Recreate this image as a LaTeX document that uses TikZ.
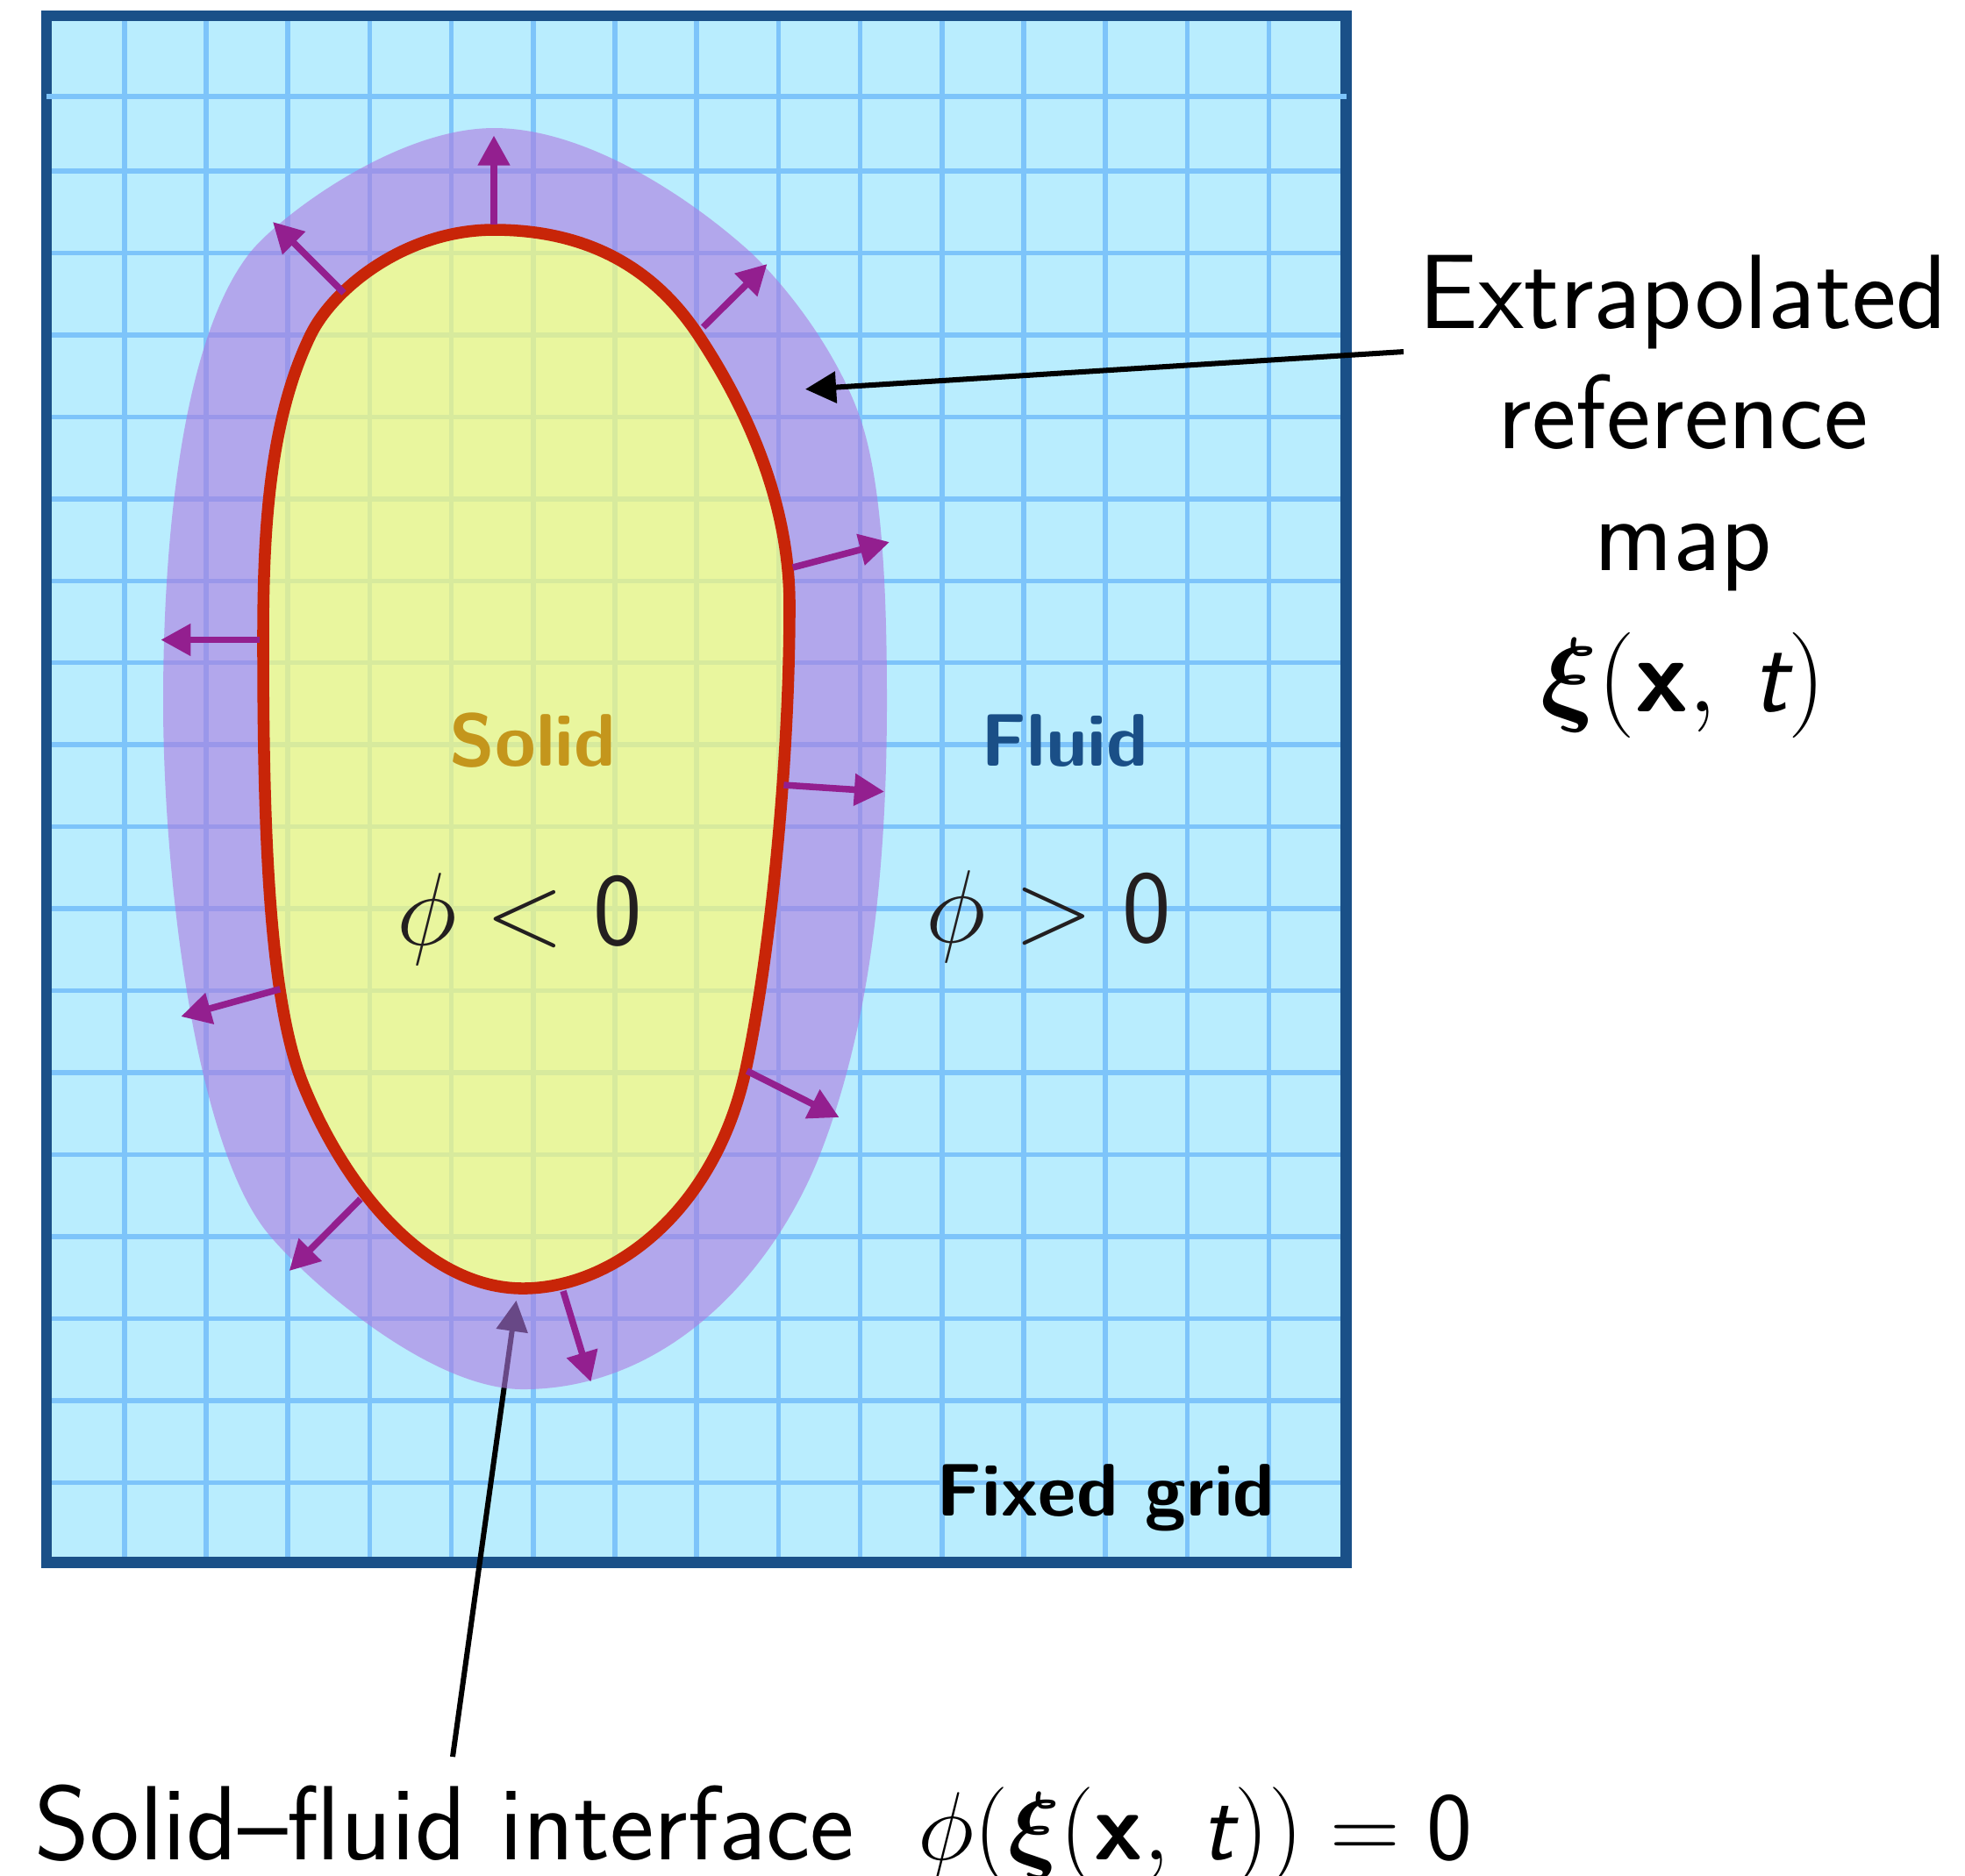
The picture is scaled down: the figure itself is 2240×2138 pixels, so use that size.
\RequirePackage{fix-cm}
\documentclass[tikz,border=0pt]{standalone}
\usepackage{bm}
\usetikzlibrary{arrows.meta}
\definecolor{bgc}{HTML}{B9EDFE}
\definecolor{gridc}{HTML}{7DC4FA}
\definecolor{framec}{HTML}{1A5088}
\definecolor{purp}{HTML}{AE79E0}
\definecolor{solidc}{HTML}{FEFB76}
\definecolor{redc}{HTML}{C82508}
\definecolor{normc}{HTML}{931F8F}
\definecolor{solidtxt}{HTML}{C4961C}
\definecolor{fluidtxt}{HTML}{1A4F87}
\definecolor{mathtxt}{HTML}{231F20}
\begin{document}
\begin{tikzpicture}[x=0.007cm,y=-0.007cm,
  gridline/.style={draw=gridc, line width=1.1pt},
  normarrow/.style={draw=normc, line width=1.5pt, -{Triangle[length=6.8pt,width=7pt]}},
  blackarrow/.style={draw=black, line width=1.2pt, -{Triangle[length=7pt,width=7pt]}},
  bigtxt/.style={font=\sffamily\fontsize{24}{28}\selectfont, inner sep=0pt, anchor=base},
  boldlbl/.style={font=\sffamily\bfseries\fontsize{16.9}{20}\selectfont, inner sep=0pt, anchor=base},
  mathlbl/.style={font=\fontsize{23.5}{28}\selectfont, text=mathtxt, inner sep=0pt, anchor=base}]
\useasboundingbox (0,0) rectangle (2240,2138);
\fill[white] (0,0) rectangle (2240,2138);
% fixed grid
\fill[bgc] (53,18) rectangle (1534.5,1781.5);
\foreach \i in {0,...,14} \draw[gridline] ({141.8+93.2*\i},18) -- ({141.8+93.2*\i},1781.5);
\foreach \j in {0,...,16} \draw[gridline] (53,{195+93.45*\j}) -- (1534.5,{195+93.45*\j});
\draw[framec, line width=2.5pt] (53,18) rectangle (1534.5,1781.5);
\draw[gridline] (53,110) -- (1534.5,110);
% interface pointer (under the extrapolated band)
\coordinate (ifacetail) at (516,2003);
\coordinate (ifacetip) at (588.5,1482.7);
\draw[blackarrow] (ifacetail) -- (ifacetip);
% extrapolated band (ring around the solid)
\fill[purp, opacity=0.6, even odd rule]
  (563,146) .. controls (670,146) and (790,228) .. (856,288)
  .. controls (906.4,336.3) and (956.9,409.2) .. (980,475)
  .. controls (1006.4,550.2) and (1011,680) .. (1011,800)
  .. controls (1011,1000) and (990,1173.5) .. (936,1313)
  .. controls (882,1452.5) and (760,1584) .. (596,1584)
  .. controls (490,1584) and (350.8,1461) .. (306,1407)
  .. controls (222.8,1306.9) and (186,1000) .. (186,800)
  .. controls (186,600) and (210.6,382.2) .. (285,288)
  .. controls (316,248.75) and (450,146) .. cycle
  (563,262) .. controls (690,262) and (757.5,324) .. (796,382)
  .. controls (840,448.4) and (900,560) .. (900,690)
  .. controls (900,870) and (878,1090) .. (850,1220)
  .. controls (815,1380) and (700,1469) .. (596,1469)
  .. controls (486,1469) and (393,1355) .. (345,1235)
  .. controls (305,1135) and (300,929) .. (300,729)
  .. controls (300,609) and (306,481) .. (354,382)
  .. controls (380.4,328) and (463,262) .. cycle;
% solid
\path[fill=solidc, fill opacity=0.7, draw=redc, line width=2.7pt]
  (563,262) .. controls (690,262) and (757.5,324) .. (796,382)
  .. controls (840,448.4) and (900,560) .. (900,690)
  .. controls (900,870) and (878,1090) .. (850,1220)
  .. controls (815,1380) and (700,1469) .. (596,1469)
  .. controls (486,1469) and (393,1355) .. (345,1235)
  .. controls (305,1135) and (300,929) .. (300,729)
  .. controls (300,609) and (306,481) .. (354,382)
  .. controls (380.4,328) and (463,262) .. cycle;
% normals
\foreach \ax/\ay/\bx/\by in {563/256/563/154.5, 392/334/311/253, 801.6/373/874.5/301, 903.7/647/1014/618, 296.4/729.5/183.3/729.5, 893.4/895/1008/902.6, 319.3/1127.7/206.3/1159, 851.5/1221/956.6/1274, 411/1367/329.7/1449, 642/1472/673.5/1575.5}
  \draw[normarrow] (\ax,\ay) -- (\bx,\by);
% labels
\node[bigtxt] (ext1) at (1918.6,374) {Extrapolated};
\node[bigtxt] (ext2) at (1918.6,511) {reference};
\node[bigtxt] (ext3) at (1918.6,650) {map};
\node[bigtxt, font=\fontsize{24}{28}\selectfont] (ext4) at (1918.6,811) {$\bm{\xi}(\mbox{\sffamily\bfseries x},\,\mbox{\sffamily\itshape t})$};
\coordinate (exttail) at (1600,401);
\coordinate (exttip) at (918,443.75);
\draw[blackarrow] (exttail) -- (exttip);
\node[boldlbl, text=solidtxt] (solidlbl) at (607.5,873) {Solid};
\node[boldlbl, text=fluidtxt] (fluidlbl) at (1214,873) {Fluid};
\node[mathlbl] (phineg) at (592,1077) {$\phi < \mbox{\sffamily 0}$};
\node[mathlbl] (phipos) at (1195.5,1074) {$\phi > \mbox{\sffamily 0}$};
\node[boldlbl, text=black] (fixedlbl) at (1260.7,1728.6) {Fixed grid};
\node[bigtxt] (ifacelbl) at (859,2120) {Solid--fluid interface\hspace{0.6em}{\fontsize{22}{26}\selectfont$\phi(\bm{\xi}(\mbox{\sffamily\bfseries x},\,\mbox{\sffamily\itshape t}))=\mbox{\sffamily 0}$}};
\end{tikzpicture}
\end{document}
